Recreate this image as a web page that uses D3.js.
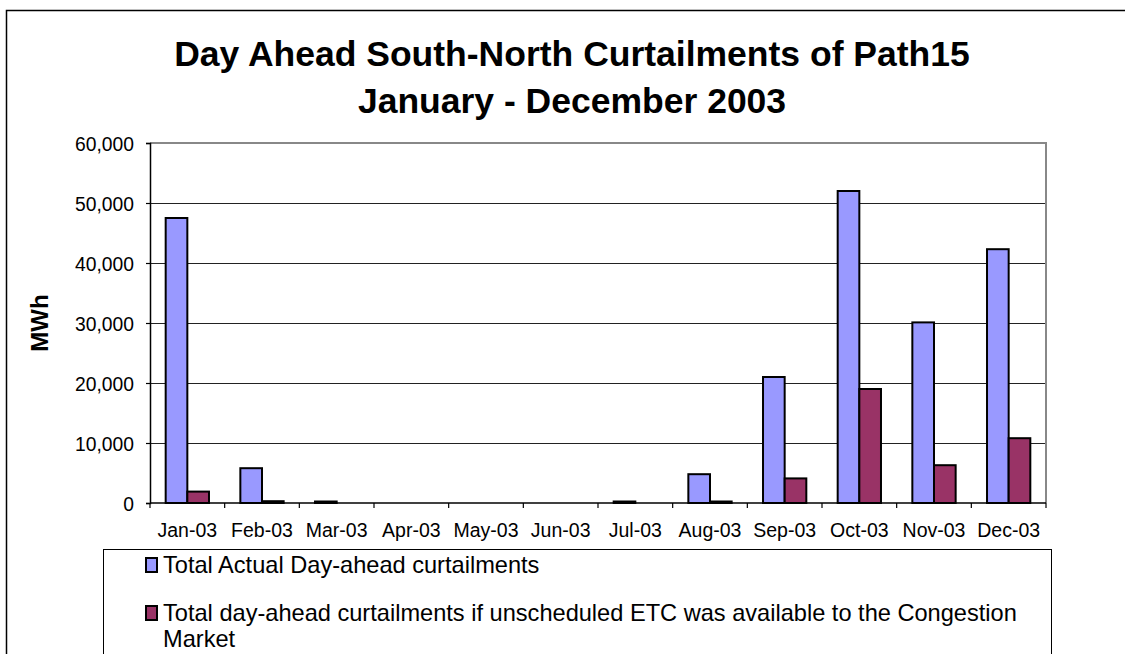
<!DOCTYPE html>
<html>
<head>
<meta charset="utf-8">
<script src="https://cdn.jsdelivr.net/npm/d3@7"></script>
<style>
  html, body { margin: 0; padding: 0; background: #fff; }
  svg { display: block; font-family: "Liberation Sans", Arial, sans-serif; }
</style>
</head>
<body>
<svg id="chart" width="1125" height="654"></svg>
<script>
// Monthly day-ahead South-North curtailments on Path15, 2003 (MWh)
const months = ["Jan-03", "Feb-03", "Mar-03", "Apr-03", "May-03", "Jun-03",
                "Jul-03", "Aug-03", "Sep-03", "Oct-03", "Nov-03", "Dec-03"];
const actualCurtailments = [47500, 5800, 250, 0, 0, 0, 250, 4800, 21000, 52000, 30100, 42300];
const etcCurtailments    = [1900, 300, 0, 0, 0, 0, 0, 250, 4100, 19000, 6300, 10800];
const yTicks = [0, 10000, 20000, 30000, 40000, 50000, 60000];
const seriesNames = [
  "Total Actual Day-ahead curtailments",
  "Total day-ahead curtailments if unscheduled ETC was available to the Congestion",
  "Market"
];
const titleLines = ["Day Ahead South-North Curtailments of Path15", "January - December 2003"];
const colors = ["#9999FF", "#993366"];

const svg = d3.select("#chart");

// outer chart frame
svg.append("rect")
  .attr("x", 6.5).attr("y", 10.5).attr("width", 1300).attr("height", 800)
  .attr("fill", "#fff").attr("stroke", "#000").attr("stroke-width", 1.5);

const plot = { left: 150, right: 1046, top: 143, bottom: 503 };

const x = d3.scaleBand().domain(months).range([plot.left, plot.right]).padding(0);
const y = d3.scaleLinear().domain([0, 60000]).range([plot.bottom, plot.top]);
const barW = x.bandwidth() * 0.29;
const center = m => x(m) + x.bandwidth() / 2;

// horizontal gridlines
svg.append("g").selectAll("line")
  .data(yTicks.filter(d => d > 0 && d < 60000))
  .join("line")
  .attr("x1", plot.left).attr("x2", plot.right)
  .attr("y1", d => Math.round(y(d)) + 0.5).attr("y2", d => Math.round(y(d)) + 0.5)
  .attr("stroke", "#222").attr("stroke-width", 1);

// plot-area border (top and right)
svg.append("path")
  .attr("d", `M${plot.left},${y(60000)}H${plot.right}V${plot.bottom}`)
  .attr("fill", "none").attr("stroke", "#888").attr("stroke-width", 2);

// bars: actual curtailments left of the month centre, ETC case to the right
svg.append("g").selectAll("rect")
  .data(months.map((m, i) => ({ m, v: actualCurtailments[i] })).filter(d => d.v > 0))
  .join("rect")
  .attr("x", d => center(d.m) - barW)
  .attr("y", d => y(d.v))
  .attr("width", barW)
  .attr("height", d => y(0) - y(d.v))
  .attr("fill", colors[0]).attr("stroke", "#000").attr("stroke-width", 2);

svg.append("g").selectAll("rect")
  .data(months.map((m, i) => ({ m, v: etcCurtailments[i] })).filter(d => d.v > 0))
  .join("rect")
  .attr("x", d => center(d.m))
  .attr("y", d => y(d.v))
  .attr("width", barW)
  .attr("height", d => y(0) - y(d.v))
  .attr("fill", colors[1]).attr("stroke", "#000").attr("stroke-width", 2);

// y axis
const yAxis = svg.append("g")
  .attr("transform", `translate(${plot.left},0)`)
  .call(d3.axisLeft(y).tickValues(yTicks).tickSize(4).tickPadding(12)
        .tickFormat(d3.format(",")));
yAxis.select(".domain").attr("stroke", "#000").attr("stroke-width", 1.5);
yAxis.selectAll(".tick line").attr("stroke", "#000").attr("stroke-width", 1.2);
yAxis.selectAll(".tick text")
  .attr("font-size", 19.3).attr("fill", "#000")
  .attr("font-family", "'Liberation Sans', Arial, sans-serif")
  .attr("dy", "0.38em");

// x axis: labels centred on each month, ticks between months
const xAxis = svg.append("g")
  .attr("transform", `translate(0,${plot.bottom})`)
  .call(d3.axisBottom(x).tickSize(0).tickPadding(20));
xAxis.select(".domain").remove();
xAxis.selectAll(".tick text")
  .attr("font-size", 19.5).attr("fill", "#000")
  .attr("font-family", "'Liberation Sans', Arial, sans-serif");

svg.append("line")
  .attr("x1", plot.left).attr("x2", plot.right)
  .attr("y1", plot.bottom).attr("y2", plot.bottom)
  .attr("stroke", "#000").attr("stroke-width", 1.5);
svg.append("g").selectAll("line")
  .data(months.map(m => x(m)).concat([plot.right]))
  .join("line")
  .attr("x1", d => d).attr("x2", d => d)
  .attr("y1", plot.bottom).attr("y2", plot.bottom + 5)
  .attr("stroke", "#000").attr("stroke-width", 1.2);

// y-axis title
svg.append("text")
  .attr("transform", `translate(48,${(plot.top + plot.bottom) / 2}) rotate(-90)`)
  .attr("text-anchor", "middle")
  .attr("font-size", 24).attr("font-weight", "bold")
  .text("MWh");

// chart title
svg.append("g").selectAll("text")
  .data(titleLines)
  .join("text")
  .attr("x", 572)
  .attr("y", (d, i) => 66 + i * 47)
  .attr("text-anchor", "middle")
  .attr("font-size", 35.5).attr("font-weight", "bold")
  .text(d => d);

// legend
const legend = svg.append("g");
legend.append("rect")
  .attr("x", 103.5).attr("y", 549.5).attr("width", 948).attr("height", 300)
  .attr("fill", "#fff").attr("stroke", "#000").attr("stroke-width", 1);

const keyY = [558, 606];
legend.selectAll("rect.key")
  .data(colors)
  .join("rect")
  .attr("class", "key")
  .attr("x", 146).attr("y", (d, i) => keyY[i])
  .attr("width", 11).attr("height", 14)
  .attr("fill", d => d).attr("stroke", "#000").attr("stroke-width", 2);

legend.selectAll("text")
  .data(seriesNames)
  .join("text")
  .attr("x", 163)
  .attr("y", (d, i) => [573, 621, 647][i])
  .attr("font-size", 23.6)
  .text(d => d);
</script>
</body>
</html>
